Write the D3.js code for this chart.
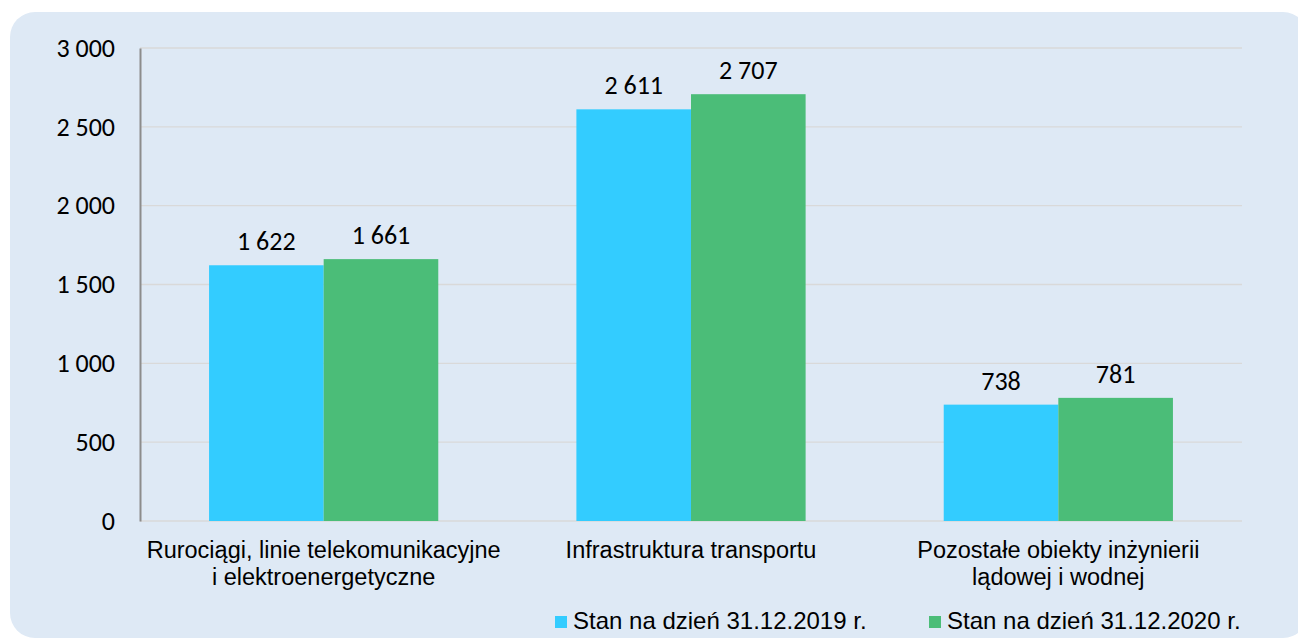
<!DOCTYPE html>
<html>
<head>
<meta charset="utf-8">
<script src="https://cdn.jsdelivr.net/npm/d3@7"></script>
<style>
  body { margin: 0; background: #fff; }
  svg { display: block; }
</style>
</head>
<body>
<div id="chart"></div>
<script>
// dane z wykresu
const categories = [
  ['Rurociągi, linie telekomunikacyjne', 'i elektroenergetyczne'],
  ['Infrastruktura transportu'],
  ['Pozostałe obiekty inżynierii', 'lądowej i wodnej']
]
const series = ['Stan na dzień 31.12.2019 r.', 'Stan na dzień 31.12.2020 r.']
const values2019 = [1622, 2611, 738]
const values2020 = [1661, 2707, 781]
const yTicks = [0, 500, 1000, 1500, 2000, 2500, 3000]

const colors = ['#33CCFF', '#4BBD78']
const W = 1298, H = 639
const margin = { top: 48, right: 56, bottom: 118, left: 140 }
const width = W - margin.left - margin.right
const height = H - margin.top - margin.bottom

const fmt = v => d3.format(',')(v).replace(/,/g, ' ')
const numFont = 'Carlito, Calibri, "Open Sans", sans-serif'
const txtFont = '"Liberation Sans", Arial, sans-serif'

const root = d3.select('#chart')
  .append('svg')
  .attr('width', W)
  .attr('height', H)

// tlo panelu
root.append('rect')
  .attr('x', 10).attr('y', 12)
  .attr('width', 1298).attr('height', 626)
  .attr('rx', 25).attr('ry', 25)
  .attr('fill', '#DEE9F5')

const svg = root.append('g')
  .attr('transform', `translate(${margin.left}, ${margin.top})`)

const x0 = d3.scaleBand()
  .domain(d3.range(categories.length))
  .range([0, width])
  .paddingInner(0.376)
  .paddingOuter(0.188)

const x1 = d3.scaleBand()
  .domain(d3.range(series.length))
  .range([0, x0.bandwidth()])

const yScale = d3.scaleLinear().domain([0, 3000]).range([height, 0])

// siatka
svg.append('g')
  .selectAll('line')
  .data(yTicks)
  .join('line')
  .attr('x1', 0).attr('x2', width)
  .attr('y1', d => yScale(d)).attr('y2', d => yScale(d))
  .attr('stroke', '#D9D9D9')
  .attr('stroke-width', 1.3)

// os y
const yaxis = d3.axisLeft(yScale).tickValues(yTicks).tickFormat(fmt).tickSize(0).tickPadding(25)
const gy = svg.append('g').call(yaxis)
gy.select('.domain').attr('stroke', '#8C8C8C').attr('stroke-width', 2)
gy.selectAll('text')
  .style('font-family', numFont)
  .style('font-size', '26px')
  .attr('fill', '#000')

// slupki
const data = categories.map((c, i) => [values2019[i], values2020[i]])
const groups = svg.append('g')
  .selectAll('g')
  .data(data)
  .join('g')
  .attr('transform', (d, i) => `translate(${x0(i)},0)`)

groups.selectAll('rect')
  .data(d => d)
  .join('rect')
  .attr('x', (d, j) => x1(j))
  .attr('width', x1.bandwidth())
  .attr('y', d => yScale(d))
  .attr('height', d => height - yScale(d))
  .attr('fill', (d, j) => colors[j])

groups.selectAll('text')
  .data(d => d)
  .join('text')
  .attr('x', (d, j) => x1(j) + x1.bandwidth() / 2)
  .attr('y', d => yScale(d) - 15)
  .attr('text-anchor', 'middle')
  .style('font-family', numFont)
  .style('font-size', '26px')
  .text(fmt)

// etykiety kategorii
const catLabels = svg.append('g')
  .selectAll('text')
  .data(categories)
  .join('text')
  .attr('x', (d, i) => x0(i) + x0.bandwidth() / 2)
  .attr('y', height + 37)
  .attr('text-anchor', 'middle')
  .style('font-family', txtFont)
  .style('font-size', '23.5px')
catLabels.selectAll('tspan')
  .data(d => d)
  .join('tspan')
  .attr('x', function () { return d3.select(this.parentNode).attr('x') })
  .attr('dy', (d, k) => k === 0 ? 0 : 27)
  .text(d => d)

// legenda
const legendX = [555, 929]
const legend = root.append('g')
  .selectAll('g')
  .data(series)
  .join('g')
  .attr('transform', (d, i) => `translate(${legendX[i]}, 629)`)
legend.append('rect')
  .attr('x', 0).attr('y', -13)
  .attr('width', 12).attr('height', 12)
  .attr('fill', (d, i) => colors[i])
legend.append('text')
  .attr('x', 18)
  .style('font-family', txtFont)
  .style('font-size', '24px')
  .text(d => d)
</script>
</body>
</html>
